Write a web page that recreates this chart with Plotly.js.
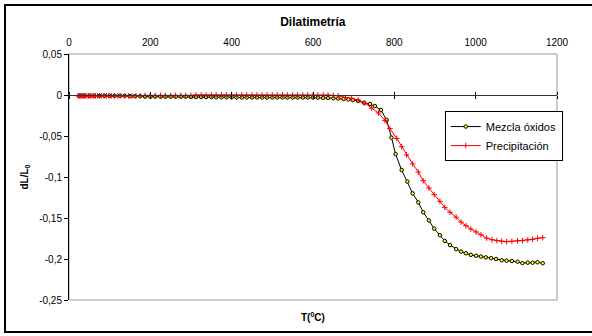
<!DOCTYPE html>
<html>
<head>
<meta charset="utf-8">
<script src="https://cdn.plot.ly/plotly-3.0.1.min.js"></script>
<style>
  html, body { margin: 0; padding: 0; background: #fff; }
  #wrap { position: relative; width: 592px; height: 336px; overflow: hidden; }
  #chart { position: absolute; left: 0; top: 0; width: 592px; height: 336px; }
  #frame { position: absolute; left: 4px; top: 4px; width: 594px; height: 329px;
           border: 2px solid #000; box-sizing: border-box; pointer-events: none; }
</style>
</head>
<body>
<div id="wrap"><div id="chart"></div><div id="frame"></div></div>
<script>
const seriesNames = ["Mezcla óxidos", "Precipitación"];

const tMezcla = [25,37,50,62,75,87,100,112,125,137,
  150,162,175,187,200,212,225,237,250,262,275,287,
  300,312,325,337,350,362,375,387,400,412,425,437,450,462,475,487,500,512,525,537,550,562,575,587,600,
  612,625,637,650,662,675,687,
  698,711,725,740,752,767,781,793,803,818,832,845,859,871,885,898,912,924,937,952,964,976,988,
  1001,1013,1025,1038,1050,1064,1076,1089,1103,1115,1128,1140,1152,1165];
const dlMezcla = [-0.001,-0.001,-0.001,-0.001,-0.001,-0.001,-0.001,-0.001,-0.001,-0.001,
  -0.0015,-0.0015,-0.0015,-0.002,-0.002,-0.002,-0.002,-0.002,-0.002,-0.002,-0.002,-0.002,
  -0.0025,-0.0025,-0.0025,-0.0025,-0.0025,-0.0028,-0.0028,-0.0028,-0.0028,-0.003,-0.003,-0.003,-0.003,-0.003,-0.003,-0.003,-0.003,-0.003,-0.003,-0.003,-0.003,-0.003,-0.003,-0.003,-0.003,
  -0.0032,-0.0034,-0.0036,-0.004,-0.0043,-0.0048,-0.0055,
  -0.0061,-0.0073,-0.0094,-0.011,-0.0134,-0.0183,-0.0305,-0.052,-0.072,-0.0915,-0.1055,-0.120,-0.131,-0.143,-0.153,-0.163,-0.171,-0.178,-0.183,-0.188,-0.191,-0.193,-0.195,
  -0.196,-0.197,-0.198,-0.199,-0.200,-0.2016,-0.202,-0.2024,-0.2033,-0.205,-0.2045,-0.2045,-0.204,-0.2052];

const tPrecip = [22,25,28,31,34,37,40,44,48,52,56,60,65,70,75,80,86,92,98,105,112,120,128,137,146,155,165,175,
  187,200,212,225,237,250,262,275,287,300,
  312,325,337,350,362,375,387,400,412,425,437,450,462,475,487,500,512,525,537,550,562,575,587,600,612,625,637,
  650,662,680,
  695,711,728,744,761,777,789,806,818,830,845,859,871,885,898,912,924,937,952,964,976,988,
  1001,1013,1027,1040,1052,1064,1076,1089,1103,1115,1128,1140,1152,1165];
const dlPrecip = [-0.001,-0.001,-0.001,-0.001,-0.001,-0.001,-0.001,-0.001,-0.001,-0.001,-0.001,-0.001,-0.001,-0.001,-0.001,-0.001,-0.001,-0.001,-0.001,-0.001,-0.001,-0.001,-0.001,-0.001,-0.001,-0.001,-0.001,-0.001,
  -0.0005,-0.0005,-0.0005,-0.0005,-0.0005,-0.0005,-0.0005,-0.0005,-0.0005,-0.0005,
  0,0,0,0,0,0,0,0,0,0,0,0,0,0,0,0,0,0,0,0,0,0,0,0,0,0,0,
  -0.0005,-0.001,-0.003,
  -0.004,-0.006,-0.010,-0.016,-0.022,-0.031,-0.041,-0.053,-0.063,-0.073,-0.084,-0.094,-0.1045,-0.1134,-0.1215,-0.1296,-0.137,-0.143,-0.149,-0.155,-0.1594,-0.1634,
  -0.167,-0.1704,-0.1745,-0.1765,-0.1776,-0.1784,-0.1789,-0.1784,-0.1778,-0.1776,-0.1768,-0.176,-0.1748,-0.174];

const xTicks = [0,200,400,600,800,1000,1200];
const yTicks = [0.05,0,-0.05,-0.1,-0.15,-0.2,-0.25];
const yTickText = ["0,05","0","-0,05","-0,1","-0,15","-0,2","-0,25"];

const traces = [
  { x: tMezcla, y: dlMezcla, name: seriesNames[0], type: 'scatter', mode: 'lines+markers',
    line: { color: '#000000', width: 1 },
    marker: { symbol: 'circle', size: 3.5, color: '#ffff00', line: { color: '#000000', width: 1 } } },
  { x: tPrecip, y: dlPrecip, name: seriesNames[1], type: 'scatter', mode: 'lines+markers',
    line: { color: '#ff0000', width: 1 },
    marker: { symbol: 'cross-thin', size: 4, color: '#ff0000', line: { color: '#ff0000', width: 1 } } },
  { x: [0,1200], y: [0,0], xaxis: 'x2', mode: 'none', showlegend: false, hoverinfo: 'skip' },
  { x: [0,1200], y: [0,0], xaxis: 'x3', mode: 'none', showlegend: false, hoverinfo: 'skip' }
];

const font = { family: 'Arial, "Liberation Sans", sans-serif', color: '#000' };
const zeroPos = 0.25 / 0.30;

const layout = {
  width: 592, height: 336,
  margin: { l: 69, r: 35, t: 54, b: 36, pad: 0 },
  paper_bgcolor: '#ffffff', plot_bgcolor: '#ffffff',
  font: Object.assign({ size: 10 }, font),
  separators: ',.',
  title: { text: '<b>Dilatimetría</b>', font: Object.assign({ size: 12 }, font),
           x: 0.5285, xanchor: 'center', y: 0.935, yanchor: 'middle' },
  showlegend: true,
  legend: { x: 0.77, y: 0.768, xanchor: 'left', yanchor: 'top',
            bgcolor: '#ffffff', bordercolor: '#000000', borderwidth: 1,
            font: Object.assign({ size: 11 }, font), tracegroupgap: 0, itemwidth: 30 },
  xaxis: { range: [0,1200], side: 'top', tickvals: xTicks, ticktext: xTicks.map(String),
           showgrid: false, zeroline: false, showline: false, ticks: '', ticklabelstandoff: 5,
           tickfont: Object.assign({ size: 10 }, font),
           title: { text: '' } },
  xaxis2: { overlaying: 'x', matches: 'x', anchor: 'free', position: zeroPos, side: 'bottom',
            tickvals: xTicks, showticklabels: false, ticks: 'outside', ticklen: 3, tickcolor: '#000',
            showline: true, linecolor: '#333', linewidth: 1, showgrid: false, zeroline: false },
  xaxis3: { overlaying: 'x', matches: 'x', anchor: 'free', position: zeroPos, side: 'top',
            tickvals: xTicks, showticklabels: false, ticks: 'outside', ticklen: 3, tickcolor: '#000',
            showline: false, showgrid: false, zeroline: false },
  yaxis: { range: [-0.25, 0.05], tickvals: yTicks, ticktext: yTickText,
           showgrid: false, zeroline: false, showline: true, linecolor: '#000', linewidth: 1,
           ticks: 'outside', ticklen: 4, tickcolor: '#000',
           tickfont: Object.assign({ size: 10 }, font),
           title: { text: '<b>dL/L<sub>0</sub></b>', font: Object.assign({ size: 10 }, font), standoff: 8 } },
  annotations: [
    { text: '<b>T(<sup>0</sup>C)</b>', xref: 'paper', yref: 'paper', x: 0.5, y: -0.068,
      xanchor: 'center', yanchor: 'middle', showarrow: false, font: Object.assign({ size: 10 }, font) }
  ],
  shapes: [
    { type: 'rect', xref: 'paper', yref: 'paper', x0: 0, x1: 1, y0: 0, y1: 1,
      line: { color: '#999999', width: 1 }, layer: 'below' }
  ]
};

Plotly.newPlot('chart', traces, layout, { displayModeBar: false, staticPlot: true });
</script>
</body>
</html>
